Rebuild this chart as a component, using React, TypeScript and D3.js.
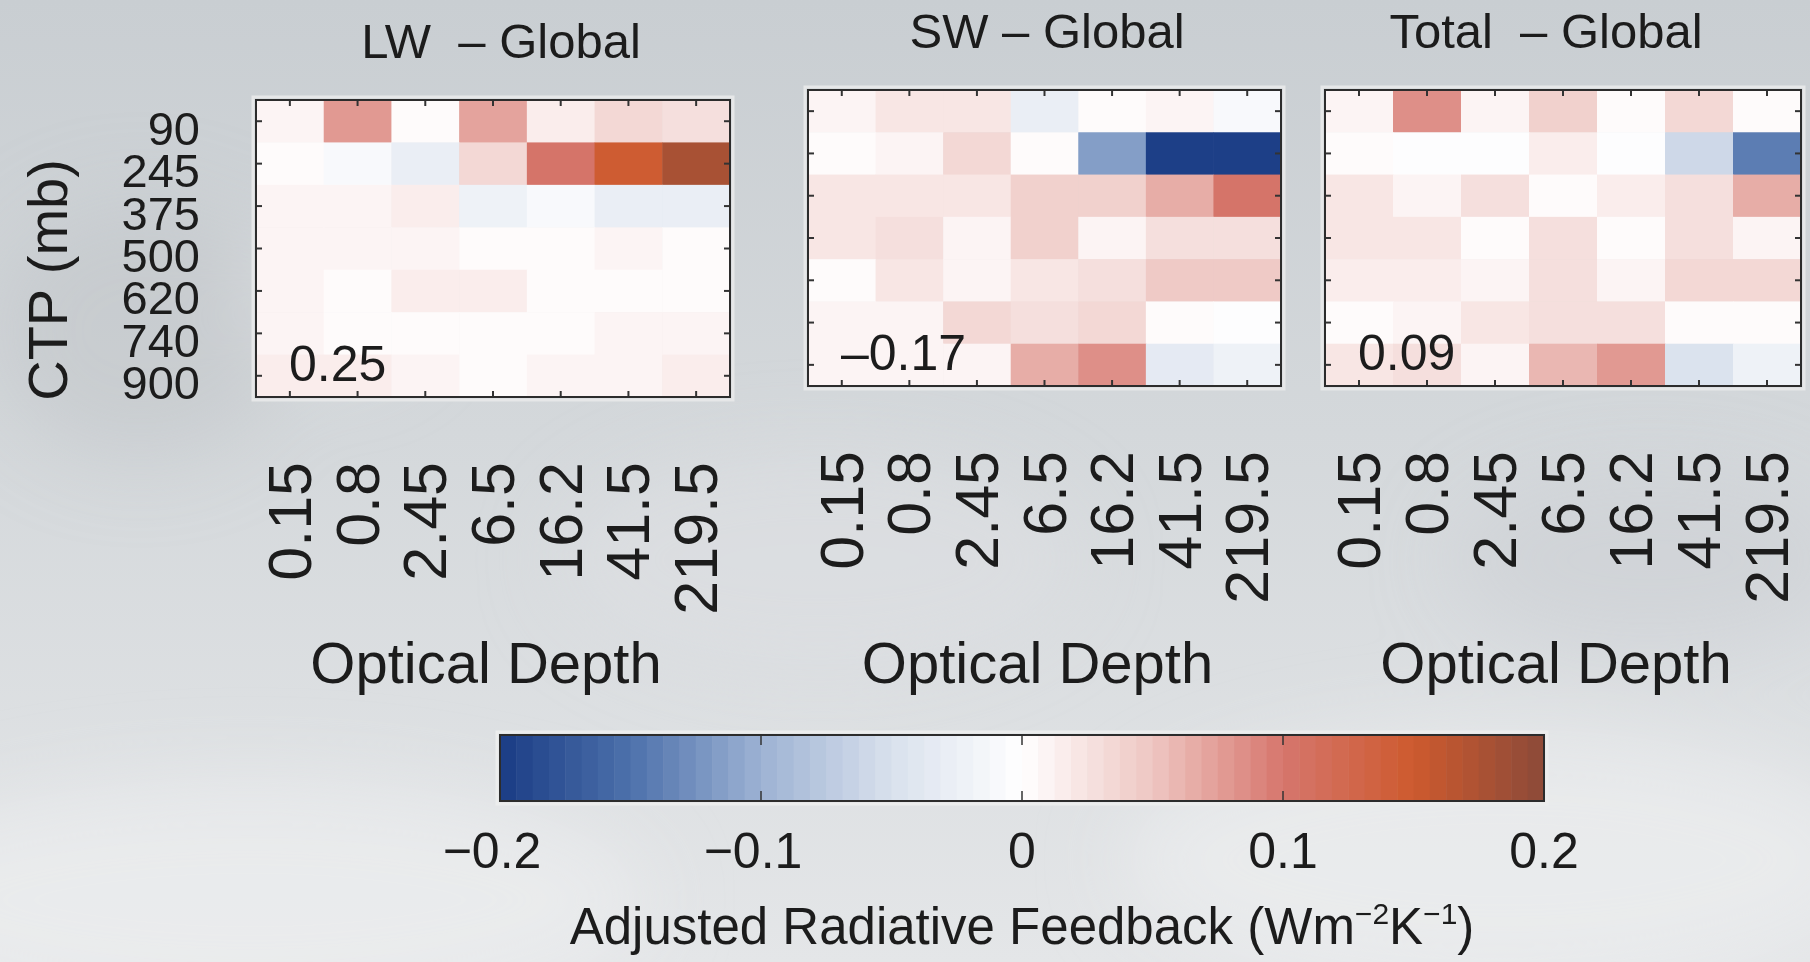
import React, { useEffect } from 'react';
import * as d3 from 'd3';

// cloud-top pressure (rows, top to bottom) and optical depth (columns)
const ctpLabels = ['90', '245', '375', '500', '620', '740', '900'];
const tauLabels = ['0.15', '0.8', '2.45', '6.5', '16.2', '41.5', '219.5'];

// feedback values, W m-2 K-1
const lwValues = [
  [0.01, 0.075, 0.003, 0.07, 0.014, 0.035, 0.025],
  [0.004, -0.008, -0.03, 0.035, 0.1, 0.148, 0.175],
  [0.012, 0.008, 0.014, -0.022, -0.008, -0.026, -0.026],
  [0.012, 0.01, 0.01, 0.004, 0.0, 0.008, 0.0],
  [0.012, 0.002, 0.014, 0.018, 0.0, 0.0, 0.003],
  [0.01, 0.006, 0.004, 0.006, 0.004, 0.012, 0.012],
  [0.014, 0.014, 0.012, 0.003, 0.01, 0.01, 0.014],
];
const swValues = [
  [0.012, 0.02, 0.02, -0.028, 0.0, 0.01, -0.012],
  [0.003, 0.012, 0.035, 0.0, -0.118, -0.2, -0.2],
  [0.02, 0.02, 0.02, 0.04, 0.042, 0.068, 0.1],
  [0.02, 0.03, 0.008, 0.04, 0.012, 0.03, 0.03],
  [0.005, 0.02, 0.007, 0.02, 0.03, 0.045, 0.045],
  [0.01, 0.01, 0.035, 0.03, 0.035, 0.003, -0.006],
  [0.012, 0.012, 0.012, 0.068, 0.085, -0.035, -0.022],
];
const totalValues = [
  [0.012, 0.085, 0.012, 0.04, 0.004, 0.035, 0.0],
  [0.003, -0.006, -0.004, 0.018, -0.004, -0.06, -0.14],
  [0.02, 0.012, 0.03, 0.003, 0.018, 0.025, 0.068],
  [0.02, 0.02, 0.003, 0.025, 0.003, 0.03, 0.01],
  [0.014, 0.014, 0.01, 0.03, 0.01, 0.035, 0.035],
  [0.006, 0.012, 0.02, 0.03, 0.03, 0.006, 0.0],
  [0.02, 0.025, 0.01, 0.058, 0.08, -0.045, -0.02],
];

const panelTitles = ['LW  \u2013 Global', 'SW \u2013 Global', 'Total  \u2013 Global'];
const globalMeans = ['0.25', '\u20130.17', '0.09'];
const colorbarTicks = [-0.2, -0.1, 0, 0.1, 0.2];

const cmapStops = [-0.2, -0.15, -0.1, -0.05, 0, 0.05, 0.1, 0.15, 0.2];
const cmapColors = ['#1a3c85', '#4d71ab', '#9db2d3', '#d9e1ed', '#ffffff', '#eec6c2', '#d6766d', '#cd5a2e', '#8c4a39'];
const nSteps = 64;

const font = '"Liberation Sans", Arial, Helvetica, sans-serif';
const ink = '#1c1c1c';

const cmap = d3.scaleLinear<string>().domain(cmapStops).range(cmapColors).interpolate(d3.interpolateRgb).clamp(true);
const stepW = 0.4 / nSteps;
const stepColor = (v: number) => {
  const i = Math.max(0, Math.min(nSteps - 1, Math.floor((v + 0.2) / stepW)));
  return cmap(-0.2 + (i + 0.5) * stepW);
};

const panels = [
  { values: lwValues, x0: 256, y0: 100, w: 474, h: 297, titleX: 501, titleY: 58 },
  { values: swValues, x0: 808, y0: 90, w: 473, h: 296, titleX: 1047, titleY: 48 },
  { values: totalValues, x0: 1325, y0: 90, w: 476, h: 296, titleX: 1546, titleY: 48 },
];

const Panel: React.FC<{ idx: number }> = ({ idx }) => {
  const p = panels[idx];
  const x = d3.scaleBand().domain(tauLabels).range([p.x0, p.x0 + p.w]);
  const y = d3.scaleBand().domain(ctpLabels).range([p.y0, p.y0 + p.h]);
  const bw = x.bandwidth();
  const bh = y.bandwidth();
  const tick = 6;
  return (
    <g>
      <text x={p.titleX} y={p.titleY} textAnchor="middle" fontSize={49} fill={ink} style={{ whiteSpace: 'pre' }}>
        {panelTitles[idx]}
      </text>
      <rect x={p.x0 - 3} y={p.y0 - 3} width={p.w + 6} height={p.h + 6} fill="none" stroke="#e6e7e8" strokeWidth={3} />
      {p.values.map((row, r) =>
        row.map((v, c) => (
          <rect key={`${r}-${c}`} x={x(tauLabels[c])!} y={y(ctpLabels[r])!} width={bw + 0.5} height={bh + 0.5} fill={stepColor(v)} />
        ))
      )}
      {tauLabels.map(t => {
        const cx = x(t)! + bw / 2;
        return (
          <g key={t}>
            <line x1={cx} x2={cx} y1={p.y0} y2={p.y0 + tick} stroke="#333" strokeWidth={2} />
            <line x1={cx} x2={cx} y1={p.y0 + p.h} y2={p.y0 + p.h - tick} stroke="#333" strokeWidth={2} />
            <text
              transform={`translate(${cx},${p.y0 + p.h + 65}) rotate(-90)`}
              textAnchor="end"
              dominantBaseline="central"
              fontSize={61}
              fill={ink}
            >
              {t}
            </text>
          </g>
        );
      })}
      {ctpLabels.map(c => {
        const cy = y(c)! + bh / 2;
        return (
          <g key={c}>
            <line x1={p.x0} x2={p.x0 + tick} y1={cy} y2={cy} stroke="#333" strokeWidth={2} />
            <line x1={p.x0 + p.w} x2={p.x0 + p.w - tick} y1={cy} y2={cy} stroke="#333" strokeWidth={2} />
            {idx === 0 && (
              <text x={200} y={cy + 7} textAnchor="end" dominantBaseline="central" fontSize={47} fill={ink}>
                {c}
              </text>
            )}
          </g>
        );
      })}
      <rect x={p.x0} y={p.y0} width={p.w} height={p.h} fill="none" stroke="#2c2c2c" strokeWidth={2} />
      <text x={p.x0 + 33} y={p.y0 + p.h - 16} fontSize={50} fill={ink}>
        {globalMeans[idx]}
      </text>
      <text x={p.x0 + p.w / 2 - 7} y={683} textAnchor="middle" fontSize={58} fill={ink}>
        Optical Depth
      </text>
    </g>
  );
};

const Colorbar: React.FC = () => {
  const x0 = 500, x1 = 1544, y0 = 735, h = 66;
  const xs = d3.scaleLinear().domain([-0.2, 0.2]).range([x0, x1]);
  const steps = d3.range(nSteps).map(i => -0.2 + i * stepW);
  return (
    <g>
      <rect x={x0 - 3} y={y0 - 3} width={x1 - x0 + 6} height={h + 6} fill="none" stroke="#eceded" strokeWidth={3} />
      {steps.map(s => (
        <rect key={s} x={xs(s)} y={y0} width={xs(s + stepW) - xs(s) + 0.5} height={h} fill={stepColor(s + stepW / 2)} />
      ))}
      {colorbarTicks.map(t => (
        <g key={t}>
          <line x1={xs(t)} x2={xs(t)} y1={y0} y2={y0 + 10} stroke="#333" strokeWidth={1.5} />
          <line x1={xs(t)} x2={xs(t)} y1={y0 + h} y2={y0 + h - 10} stroke="#333" strokeWidth={1.5} />
          <text x={xs(t) - (t < 0 ? 8 : 0)} y={868} textAnchor="middle" fontSize={50} fill={ink}>
            {t === 0 ? '0' : d3.format('.1f')(t).replace('-', '\u2013')}
          </text>
        </g>
      ))}
      <rect x={x0} y={y0} width={x1 - x0} height={h} fill="none" stroke="#2c2c2c" strokeWidth={2} />
      <text x={1022} y={944} textAnchor="middle" fontSize={51} fill={ink}>
        Adjusted Radiative Feedback (Wm
        <tspan fontSize={30} dy={-20}>{'\u22122'}</tspan>
        <tspan dy={20}>K</tspan>
        <tspan fontSize={30} dy={-20}>{'\u22121'}</tspan>
        <tspan dy={20}>)</tspan>
      </text>
    </g>
  );
};

const App: React.FC = () => {
  useEffect(() => {
    document.body.style.margin = '0';
    document.body.style.overflow = 'hidden';
  }, []);

  return (
    <svg width={1810} height={962} style={{ display: 'block', fontFamily: font }}>
      <defs>
        <linearGradient id="bg" x1="0" y1="0" x2="0" y2="1">
          <stop offset="0" stopColor="#c9ced2" />
          <stop offset="0.45" stopColor="#d4d8db" />
          <stop offset="1" stopColor="#e4e6e8" />
        </linearGradient>
        <filter id="blur" x="-50%" y="-50%" width="200%" height="200%">
          <feGaussianBlur stdDeviation="40" />
        </filter>
      </defs>
      <rect width={1810} height={962} fill="url(#bg)" />
      <g filter="url(#blur)">
        <ellipse cx={140} cy={330} rx={150} ry={130} fill="#bfc3c7" opacity={0.5} />
        <ellipse cx={330} cy={300} rx={90} ry={70} fill="#e2e4e6" opacity={0.5} />
        <ellipse cx={820} cy={560} rx={260} ry={110} fill="#dde0e3" opacity={0.6} />
        <ellipse cx={250} cy={900} rx={400} ry={120} fill="#eceeef" opacity={0.7} />
        <ellipse cx={1500} cy={860} rx={380} ry={130} fill="#eceeef" opacity={0.7} />
        <ellipse cx={1650} cy={560} rx={200} ry={90} fill="#c9cdd1" opacity={0.5} />
      </g>
      <text
        transform="translate(47,280) rotate(-90)"
        textAnchor="middle"
        dominantBaseline="central"
        fontSize={56}
        fill={ink}
      >
        CTP (mb)
      </text>
      {panels.map((_, i) => (
        <Panel key={i} idx={i} />
      ))}
      <Colorbar />
    </svg>
  );
};

export default App;
